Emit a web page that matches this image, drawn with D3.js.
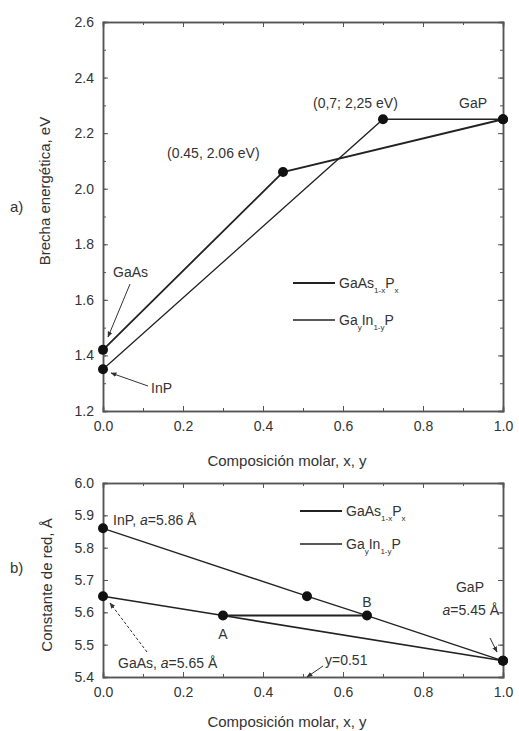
<!DOCTYPE html>
<html><head><meta charset="utf-8">
<script src="https://cdn.jsdelivr.net/npm/d3@7"></script>
<style>
body{margin:0;background:#fff;}
svg{display:block;font-family:"Liberation Sans",Arial,sans-serif;}
.tick text{fill:#333;font-size:14px;}
.tick line{stroke:#555;}
.domain{stroke:#555;stroke-width:1.5;}
</style></head>
<body>
<script>
// ---- data ----
const xTickValues = [0, 0.2, 0.4, 0.6, 0.8, 1.0];
const gapTickValues = [1.2, 1.4, 1.6, 1.8, 2.0, 2.2, 2.4, 2.6];
const latTickValues = [5.4, 5.5, 5.6, 5.7, 5.8, 5.9, 6.0];

const gapX_GaAsP = [0, 0.45, 1.0];
const gap_GaAsP  = [1.42, 2.06, 2.25];
const gapX_GaInP = [0, 0.7, 1.0];
const gap_GaInP  = [1.35, 2.25, 2.25];

const latX_GaAsP = [0, 0.3, 1.0];
const lat_GaAsP  = [5.65, 5.59, 5.45];
const latX_GaInP = [0, 0.51, 0.66, 1.0];
const lat_GaInP  = [5.86, 5.65, 5.59, 5.45];
const latX_AB = [0.3, 0.66];
const lat_AB  = [5.59, 5.59];

const W = 519, H = 731;
const svg = d3.select("body").append("svg").attr("width", W).attr("height", H);

const defs = svg.append("defs");
defs.append("marker").attr("id","arr").attr("viewBox","0 0 10 10").attr("refX",9).attr("refY",5)
  .attr("markerWidth",6).attr("markerHeight",6).attr("orient","auto")
  .append("path").attr("d","M0,1 L10,5 L0,9 z").attr("fill","#333");

const x1 = d3.scaleLinear().domain([0,1]).range([103,503]);
const yGap = d3.scaleLinear().domain([1.2,2.6]).range([411,22]);
const yLat = d3.scaleLinear().domain([5.4,6.0]).range([677,483]);

function panel(y, yTicks, minorStep, yDom) {
  const g = svg.append("g");
  const [y0,y1] = y.range();
  const fmt = d3.format(".1f");
  const xMinor = d3.range(0,1.0001,0.1);
  const yMinor = d3.range(yDom[0], yDom[1]+1e-6, minorStep);
  g.append("g").attr("transform",`translate(0,${y0})`)
    .call(d3.axisBottom(x1).tickValues(xMinor).tickSize(-3).tickFormat(""));
  g.append("g").attr("transform",`translate(0,${y1})`)
    .call(d3.axisTop(x1).tickValues(xMinor).tickSize(-3).tickFormat(""));
  g.append("g").attr("transform",`translate(${x1.range()[0]},0)`)
    .call(d3.axisLeft(y).tickValues(yMinor).tickSize(-3).tickFormat(""));
  g.append("g").attr("transform",`translate(${x1.range()[1]},0)`)
    .call(d3.axisRight(y).tickValues(yMinor).tickSize(-3).tickFormat(""));
  g.append("g").attr("transform",`translate(0,${y0})`)
    .call(d3.axisBottom(x1).tickValues(xTickValues).tickSize(-5).tickPadding(10).tickFormat(fmt));
  g.append("g").attr("transform",`translate(${x1.range()[0]},0)`)
    .call(d3.axisLeft(y).tickValues(yTicks).tickSize(-5).tickPadding(9).tickFormat(fmt));
  g.append("g").attr("transform",`translate(0,${y1})`)
    .call(d3.axisTop(x1).tickValues(xTickValues).tickSize(-5).tickFormat(""));
  g.append("g").attr("transform",`translate(${x1.range()[1]},0)`)
    .call(d3.axisRight(y).tickValues(yTicks).tickSize(-5).tickFormat(""));
  g.selectAll(".tick line").attr("stroke","#555");
  return g;
}

function drawLine(xs, ys, y, w) {
  const line = d3.line().x(d=>x1(d[0])).y(d=>y(d[1]));
  svg.append("path").datum(d3.zip(xs, ys)).attr("d", line)
    .attr("fill","none").attr("stroke","#222").attr("stroke-width", w);
}
function dots(xs, ys, y) {
  svg.append("g").selectAll("circle").data(d3.zip(xs, ys)).join("circle")
    .attr("cx", d=>x1(d[0])).attr("cy", d=>y(d[1])).attr("r",5).attr("fill","#111");
}
function txt(x, y, s, opts={}) {
  const t = svg.append("text").attr("x",x).attr("y",y).attr("fill","#333")
    .attr("font-size", opts.size||14).attr("text-anchor", opts.anchor||"start").text(s);
  if (opts.rotate) t.attr("transform",`rotate(-90,${x},${y})`);
  return t;
}
function arrow(xa, ya, xb, yb, dash) {
  const l = svg.append("line").attr("x1",xa).attr("y1",ya).attr("x2",xb).attr("y2",yb)
    .attr("stroke","#333").attr("stroke-width",1).attr("marker-end","url(#arr)");
  if (dash) l.attr("stroke-dasharray", dash);
}
function legendEntry(xl, yl, w, parts) {
  svg.append("line").attr("x1",xl).attr("x2",xl+42).attr("y1",yl).attr("y2",yl)
    .attr("stroke","#222").attr("stroke-width",w);
  const t = svg.append("text").attr("x",xl+46).attr("y",yl+5).attr("fill","#333").attr("font-size",14);
  let off = 0;
  parts.forEach(p => {
    const target = p.sub ? 5 : 0;
    const ts = t.append("tspan").attr("dy", target - off).text(p.sub || p.t);
    if (p.sub) ts.attr("font-size", 8);
    off = target;
  });
}

// ---------- panel a ----------
panel(yGap, gapTickValues, 0.1, [1.2,2.6]);
drawLine(gapX_GaAsP, gap_GaAsP, yGap, 1.8);
drawLine(gapX_GaInP, gap_GaInP, yGap, 1.3);
dots(gapX_GaAsP, gap_GaAsP, yGap);
dots(gapX_GaInP, gap_GaInP, yGap);

txt(167, 158, "(0.45, 2.06 eV)");
txt(313, 108, "(0,7; 2,25 eV)");
txt(459, 108, "GaP");
txt(113, 277, "GaAs");
arrow(130, 284, 108, 337);
txt(151, 393, "InP");
arrow(148, 386, 111, 373);
legendEntry(293, 283, 1.8, [{t:"GaAs"},{sub:"1-x"},{t:"P"},{sub:"x"}]);
legendEntry(293, 320, 1.3, [{t:"Ga"},{sub:"y"},{t:"In"},{sub:"1-y"},{t:"P"}]);

txt(50, 191, "Brecha energética, eV", {anchor:"middle", rotate:true, size:15});
txt(10, 212, "a)", {size:15});
txt(287, 466, "Composición molar, x, y", {anchor:"middle", size:15});

// ---------- panel b ----------
panel(yLat, latTickValues, 0.1, [5.4,6.0]);
drawLine(latX_GaAsP, lat_GaAsP, yLat, 1.6);
drawLine(latX_GaInP, lat_GaInP, yLat, 1.3);
drawLine(latX_AB, lat_AB, yLat, 2);
dots(latX_GaAsP, lat_GaAsP, yLat);
dots(latX_GaInP, lat_GaInP, yLat);

const lt1 = txt(113, 525, "InP, "); lt1.append("tspan").attr("font-style","italic").text("a"); lt1.append("tspan").text("=5.86  Å");
const lt2 = txt(118, 668, "GaAs, "); lt2.append("tspan").attr("font-style","italic").text("a"); lt2.append("tspan").text("=5.65 Å");
arrow(147, 652, 110, 603, "3,2");
txt(223, 639, "A", {anchor:"middle"});
txt(367, 607, "B", {anchor:"middle"});
txt(470, 592, "GaP", {anchor:"middle"});
const lt3 = txt(499, 615, "", {anchor:"end"}); lt3.append("tspan").attr("font-style","italic").text("a"); lt3.append("tspan").text("=5.45 Å");
arrow(490, 638, 497, 652);
txt(325, 665, "y=0.51");
arrow(323, 666, 307, 677);
legendEntry(300, 511, 1.8, [{t:"GaAs"},{sub:"1-x"},{t:"P"},{sub:"x"}]);
legendEntry(300, 544, 1.3, [{t:"Ga"},{sub:"y"},{t:"In"},{sub:"1-y"},{t:"P"}]);

txt(52, 585, "Constante de red, Å", {anchor:"middle", rotate:true, size:15});
txt(10, 573, "b)", {size:15});
txt(287, 727, "Composición molar, x, y", {anchor:"middle", size:15});
</script>
</body></html>
